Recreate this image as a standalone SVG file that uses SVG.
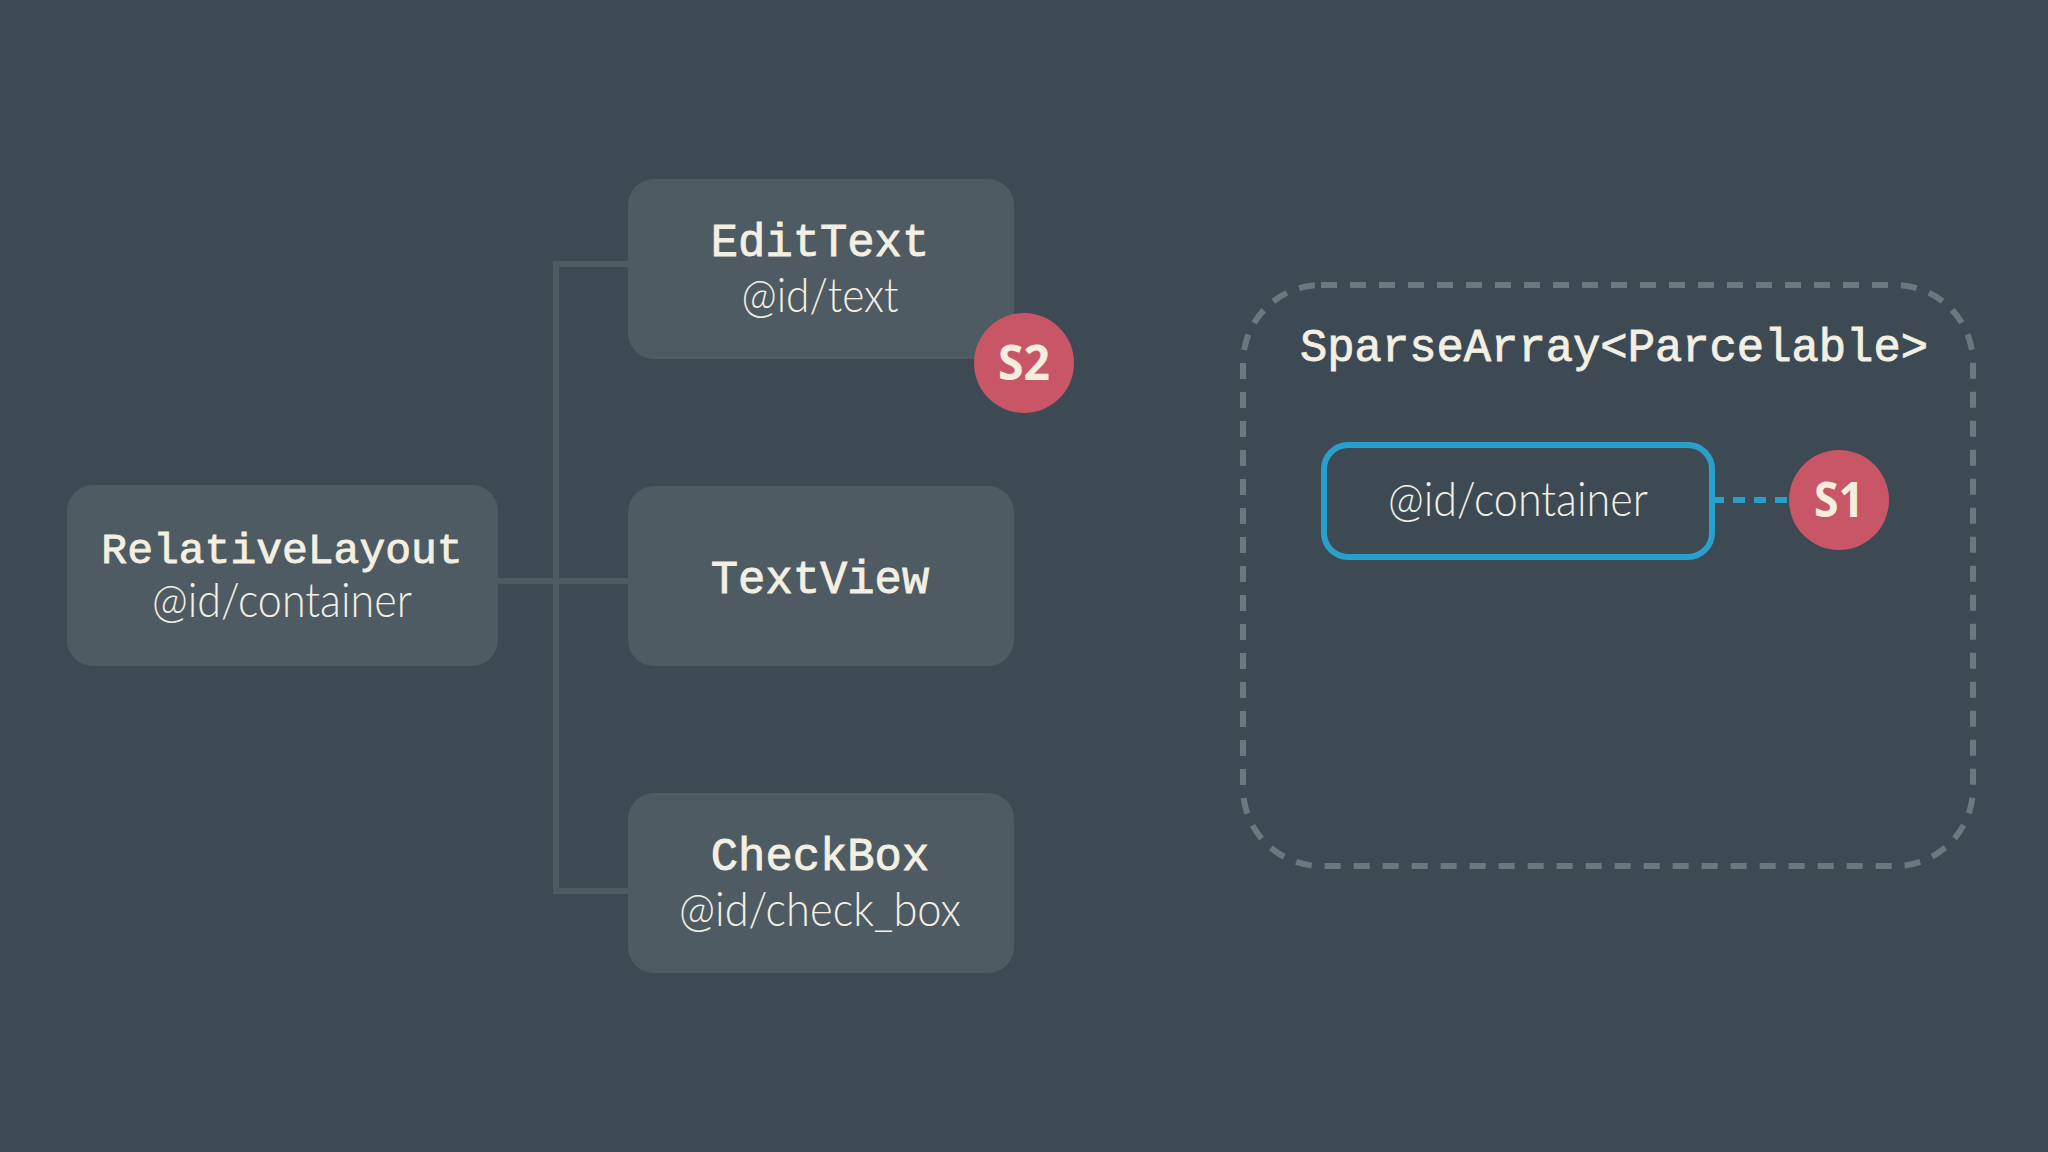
<svg xmlns="http://www.w3.org/2000/svg" width="2048" height="1152" viewBox="0 0 2048 1152">
<style>
.node{fill:#4e5b62}
.title{font-family:"Liberation Mono","Courier New",monospace;font-size:43px;fill:#f3efe2;text-anchor:middle;stroke:#f3efe2;stroke-width:0.9}
.big{font-size:45.5px}
.sub{font-family:Lato,"Open Sans",sans-serif;font-weight:300;font-size:47px;fill:#f3efe2;text-anchor:middle}
.badge{fill:#c95666}
.btext{font-family:"Open Sans","Noto Sans",sans-serif;font-weight:bold;font-size:48px;fill:#f5eedf;text-anchor:middle}
.conn{fill:none;stroke:#4e5b62;stroke-width:6}
</style>
<rect width="2048" height="1152" fill="#3d4a54"/>
<g id="connectors">
<path class="conn" d="M498 581 H628 M636 264 H556 V891 H628"/>
<path d="M1712 500 H1789" fill="none" stroke="#2b9fcc" stroke-width="6" stroke-dasharray="12 9"/>
</g>
<g id="relativelayout">
<rect class="node" x="67" y="485" width="431" height="181" rx="26"/>
<text class="title" x="282" y="563">RelativeLayout</text>
<text class="sub" x="282" y="617" textLength="260" lengthAdjust="spacingAndGlyphs">@id/container</text>
</g>
<g id="edittext">
<rect class="node" x="628" y="179" width="386" height="180" rx="26"/>
<text class="title big" x="820" y="256">EditText</text>
<text class="sub" x="820" y="312" textLength="157" lengthAdjust="spacingAndGlyphs">@id/text</text>
</g>
<g id="textview">
<rect class="node" x="628" y="486" width="386" height="180" rx="26"/>
<text class="title big" x="820" y="593">TextView</text>
</g>
<g id="checkbox">
<rect class="node" x="628" y="793" width="386" height="180" rx="26"/>
<text class="title big" x="820" y="870">CheckBox</text>
<text class="sub" x="820" y="926" textLength="282" lengthAdjust="spacingAndGlyphs">@id/check_box</text>
</g>
<g id="s2">
<circle class="badge" cx="1024" cy="363" r="50"/>
<text class="btext" x="1024" y="380" textLength="52" lengthAdjust="spacingAndGlyphs">S2</text>
</g>
<g id="sparsearray">
<rect x="1243" y="285" width="730" height="581" rx="78" fill="none" stroke="#6c7880" stroke-width="6" stroke-dasharray="16 13"/>
<text class="title big" x="1614" y="361">SparseArray&lt;Parcelable&gt;</text>
</g>
<g id="container-entry">
<rect x="1324" y="445" width="388" height="112" rx="24" fill="none" stroke="#2b9fcc" stroke-width="6"/>
<text class="sub" x="1518" y="516" textLength="260" lengthAdjust="spacingAndGlyphs">@id/container</text>
</g>
<g id="s1">
<circle class="badge" cx="1839" cy="500" r="50"/>
<text class="btext" x="1839" y="517" textLength="50" lengthAdjust="spacingAndGlyphs">S1</text>
</g>
</svg>
